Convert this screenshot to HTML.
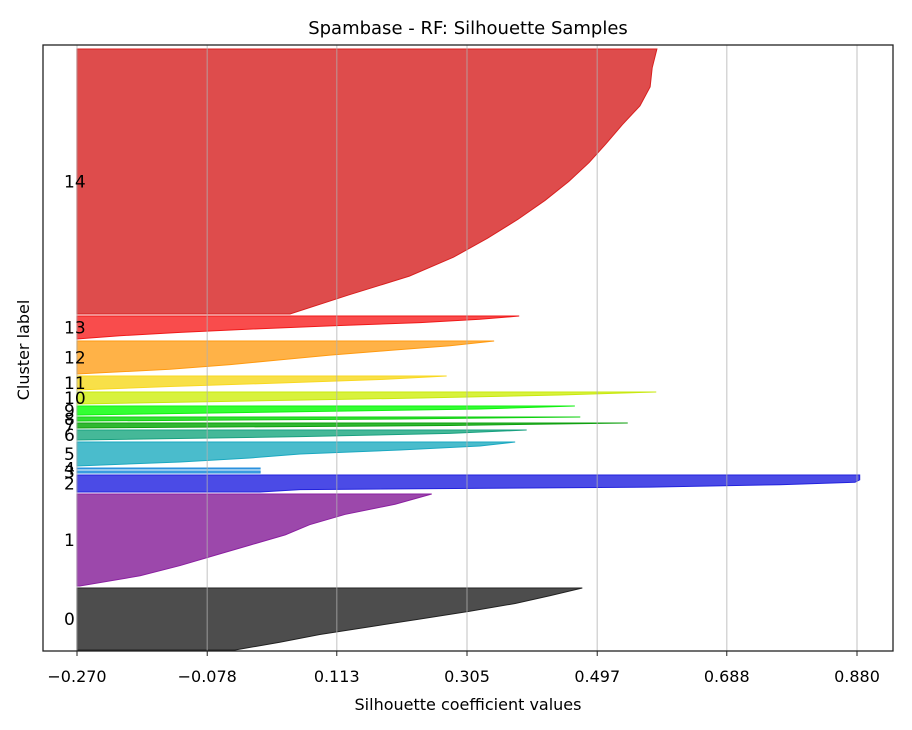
<!DOCTYPE html>
<html><head><meta charset="utf-8"><style>
body{margin:0;background:#fff;}
svg{display:block;font-family:"DejaVu Sans","Liberation Sans",sans-serif;}
</style></head><body>
<svg id="chart" width="912" height="730" xmlns="http://www.w3.org/2000/svg">
<text x="468" y="34" text-anchor="middle" font-size="18">Spambase - RF: Silhouette Samples</text>
<g id="bands"></g>
<g id="grid"></g>
<g id="labels"></g>
<rect x="43" y="45" width="850" height="606" fill="none" stroke="#222" stroke-width="1.3"/>
<g id="ticks"></g>
<text x="468" y="710" text-anchor="middle" font-size="16">Silhouette coefficient values</text>
<text x="29" y="350" text-anchor="middle" font-size="16" transform="rotate(-90 29 350)">Cluster label</text>
</svg>
<script>
const clusterLabels = ["0","1","2","3","4","5","6","7","8","9","10","11","12","13","14"];
const clusterSizes = [62,92,17,2,1,24,10,5,4,9,12,14,33,23,265];
const clusterValues = [
 [0.475,0.427,0.376,0.309,0.236,0.162,0.088,0.029,-0.037],
 [0.253,0.199,0.125,0.073,0.037,-0.015,-0.067,-0.118,-0.177,-0.266],
 [0.884,0.884,0.884,0.877,0.766,0.575,0.059,0.0],
 [0.0,0.0],
 [0.0,0.0],
 [0.376,0.324,0.206,0.059,-0.015,-0.118,-0.27],
 [0.393,0.28,0.059,-0.27],
 [0.542,0.28,-0.27],
 [0.472,0.206,-0.27],
 [0.464,0.324,0.029,-0.27],
 [0.584,0.442,0.236,-0.015,-0.27],
 [0.275,0.177,0.029,-0.133,-0.27],
 [0.345,0.28,0.191,0.103,0.029,-0.044,-0.133,-0.27],
 [0.382,0.324,0.236,0.103,-0.015,-0.118,-0.207,-0.27],
 [0.585,0.578,0.575,0.56,0.534,0.51,0.485,0.455,0.42,0.38,0.335,0.285,0.22,0.13,0.044]
];
const xTicks = [-0.270,-0.078,0.113,0.305,0.497,0.688,0.880];
const xTickLabels = ["\u22120.270","\u22120.078","0.113","0.305","0.497","0.688","0.880"];
const colors = ["#4d4d4d","#9c48ab","#4b4be6","#4aa6e2","#4ab0d8","#4abccc","#45b898","#30b830","#33e033","#33ff33","#d8f23c","#f8e048","#ffb247","#f94c4c","#de4c4c"];
const strokes = ["#222","#8a1fa0","#2222dd","#2a90dd","#2a90dd","#1aa8c0","#18a080","#10a010","#10d010","#10f010","#c8e810","#f8d820","#ff9a10","#f01818","#d82020"];
const gap = 2;

const X0=-0.27, X1=0.88, PX0=77, PX1=857;
function xs(v){return PX0+(v-X0)*(PX1-PX0)/(X1-X0);}
function ys(i){return 651-i;}
const NS="http://www.w3.org/2000/svg";
const grid=document.getElementById('grid'), bands=document.getElementById('bands'), labels=document.getElementById('labels'), ticks=document.getElementById('ticks');
xTicks.forEach((t,i)=>{
  const l=document.createElementNS(NS,'line');
  
  
  l.setAttribute('x1',xs(t));l.setAttribute('x2',xs(t));l.setAttribute('y1',45);l.setAttribute('y2',651);
  l.setAttribute('stroke','#b0b0b0');l.setAttribute('stroke-width','1.3');l.setAttribute('stroke-opacity','0.6');
  grid.appendChild(l);
  const tk=document.createElementNS(NS,'line');
  
  
  tk.setAttribute('x1',xs(t));tk.setAttribute('x2',xs(t));tk.setAttribute('y1',651);tk.setAttribute('y2',656);
  tk.setAttribute('stroke','#222');
  ticks.appendChild(tk);
  const tx=document.createElementNS(NS,'text');
  
  
  tx.setAttribute('x',xs(t));tx.setAttribute('y',682);tx.setAttribute('text-anchor','middle');tx.setAttribute('font-size','16');
  tx.textContent=xTickLabels[i];
  ticks.appendChild(tx);
});
let lower=1;
clusterSizes.forEach((n,c)=>{
  const upper=lower+n;
  const vals=clusterValues[c];
  let pts=[[xs(X0),ys(upper)]];
  vals.forEach((v,k)=>{
    const yi=upper-(vals.length===1?0:k*(n)/(vals.length-1));
    pts.push([xs(v),ys(yi)]);
  });
  pts.push([xs(X0),ys(lower)]);
  const p=document.createElementNS(NS,'polygon');
  
  
  p.setAttribute('points',pts.map(q=>q.join(',')).join(' '));
  p.setAttribute('fill',colors[c]);p.setAttribute('stroke',strokes[c]);p.setAttribute('stroke-width','1');
  bands.appendChild(p);
  const t=document.createElementNS(NS,'text');
  
  
  t.setAttribute('x',64);t.setAttribute('y',ys(lower+n/2)+6);t.setAttribute('font-size','17');
  t.textContent=clusterLabels[c];
  labels.appendChild(t);
  lower=upper+gap;
});
</script>
</body></html>
